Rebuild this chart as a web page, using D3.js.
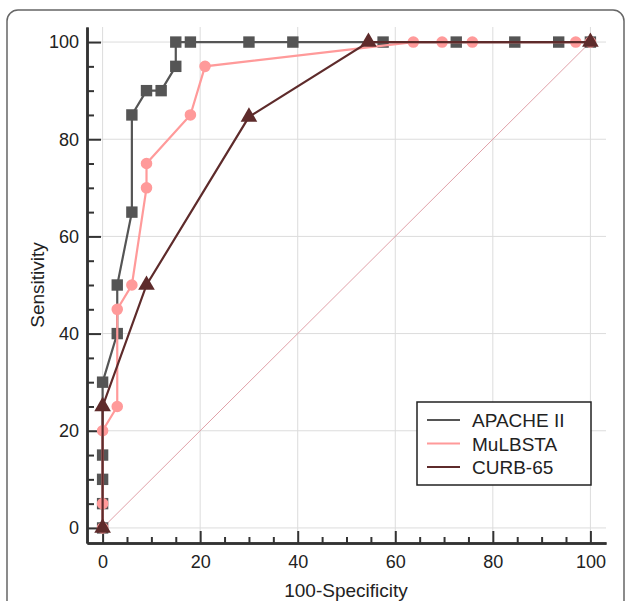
<!DOCTYPE html>
<html><head><meta charset="utf-8">
<script src="https://cdn.jsdelivr.net/npm/d3@7"></script>
<style>body{margin:0;background:#fff;}svg{display:block;font-family:"Liberation Sans",Arial,sans-serif;}</style>
</head><body><svg id="c" width="626" height="601"></svg>
<script>
const seriesNames = ["APACHE II", "MuLBSTA", "CURB-65"];
const apacheX = [0, 0, 0, 0, 0, 3, 3, 6, 6, 9, 12, 15, 15, 18, 30, 39, 57.5, 72.5, 84.5, 93.5, 100];
const apacheY = [0, 5, 10, 15, 30, 40, 50, 65, 85, 90, 90, 95, 100, 100, 100, 100, 100, 100, 100, 100, 100];
const mulbstaX = [0, 0, 0, 3, 3, 6, 9, 9, 18, 21, 63.7, 69.6, 75.8, 97, 100];
const mulbstaY = [0, 5, 20, 25, 45, 50, 70, 75, 85, 95, 100, 100, 100, 100, 100];
const curbX = [0, 0, 9, 30, 54.5, 100];
const curbY = [0, 25, 50, 84.6, 100, 100];
const majorTicks = [0, 20, 40, 60, 80, 100];
const minorTicks = [5, 10, 15, 25, 30, 35, 45, 50, 55, 65, 70, 75, 85, 90, 95];

const colors = ["#555555", "#ff9a9a", "#5e2b2b"];
const symbols = [d3.symbolSquare, d3.symbolCircle, d3.symbolTriangle];
const symSizes = [130, 105, 120];

const svg = d3.select("#c");
// outer frame
svg.append("rect").attr("x", 7).attr("y", 10).attr("width", 617).attr("height", 640)
  .attr("rx", 11).attr("fill", "none").attr("stroke", "#666").attr("stroke-width", 1.5);

const x = d3.scaleLinear().domain([-3.2, 103.2]).range([87, 606]);
const y = d3.scaleLinear().domain([-3.1, 103.1]).range([543, 27]);

// grid
const g = svg.append("g");
g.selectAll(".gx").data(majorTicks).join("line")
  .attr("x1", d => x(d)).attr("x2", d => x(d)).attr("y1", y.range()[1]).attr("y2", y.range()[0])
  .attr("stroke", "#dcdcdc").attr("stroke-width", 1);
g.selectAll(".gy").data(majorTicks).join("line")
  .attr("y1", d => y(d)).attr("y2", d => y(d)).attr("x1", x.range()[0]).attr("x2", x.range()[1])
  .attr("stroke", "#dcdcdc").attr("stroke-width", 1);

// diagonal
svg.append("line").attr("x1", x(0)).attr("y1", y(0)).attr("x2", x(100)).attr("y2", y(100))
  .attr("stroke", "#e0a0a8").attr("stroke-width", 1);

// axes
function styleAxis(sel) {
  sel.select(".domain").attr("stroke", "#333").attr("stroke-width", 2.5);
  sel.selectAll(".tick line").attr("stroke", "#333").attr("stroke-width", 2);
  sel.selectAll(".tick text").attr("fill", "#222").attr("font-size", 18);
}
const xMajor = svg.append("g").attr("transform", `translate(0,${y.range()[0]})`)
  .call(d3.axisBottom(x).tickValues(majorTicks).tickSizeInner(-12).tickSizeOuter(0).tickPadding(12));
styleAxis(xMajor);
const xMinor = svg.append("g").attr("transform", `translate(0,${y.range()[0]})`)
  .call(d3.axisBottom(x).tickValues(minorTicks).tickSizeInner(-6).tickSizeOuter(0).tickFormat(""));
styleAxis(xMinor);
const yMajor = svg.append("g").attr("transform", `translate(${x.range()[0]},0)`)
  .call(d3.axisLeft(y).tickValues(majorTicks).tickSizeInner(-14).tickSizeOuter(0).tickPadding(8));
styleAxis(yMajor);
const yMinor = svg.append("g").attr("transform", `translate(${x.range()[0]},0)`)
  .call(d3.axisLeft(y).tickValues(minorTicks).tickSizeInner(-7).tickSizeOuter(0).tickFormat(""));
styleAxis(yMinor);

// titles
svg.append("text").attr("x", 346).attr("y", 597).attr("text-anchor", "middle")
  .attr("font-size", 19).attr("fill", "#222").text("100-Specificity");
svg.append("text").attr("transform", "translate(44,285) rotate(-90)").attr("text-anchor", "middle")
  .attr("font-size", 19).attr("fill", "#222").text("Sensitivity");

// series
const data = [
  apacheX.map((v, i) => [v, apacheY[i]]),
  mulbstaX.map((v, i) => [v, mulbstaY[i]]),
  curbX.map((v, i) => [v, curbY[i]])
];
const line = d3.line().x(d => x(d[0])).y(d => y(d[1]));
data.forEach((pts, k) => {
  svg.append("path").attr("d", line(pts)).attr("fill", "none")
    .attr("stroke", colors[k]).attr("stroke-width", 2.2);
  svg.selectAll(null).data(pts).join("path")
    .attr("transform", d => `translate(${x(d[0])},${y(d[1])})`)
    .attr("d", d3.symbol().type(symbols[k]).size(symSizes[k]))
    .attr("fill", colors[k]);
});

// legend
const lg = svg.append("g");
lg.append("rect").attr("x", 417).attr("y", 402).attr("width", 174).attr("height", 83)
  .attr("fill", "#fff").attr("stroke", "#222").attr("stroke-width", 1.5);
seriesNames.forEach((n, k) => {
  const yy = 420 + k * 23.5;
  lg.append("line").attr("x1", 427).attr("x2", 460).attr("y1", yy).attr("y2", yy)
    .attr("stroke", colors[k]).attr("stroke-width", 2);
  lg.append("text").attr("x", 472).attr("y", yy + 7).attr("font-size", 19)
    .attr("fill", "#222").text(n);
});
</script></body></html>
